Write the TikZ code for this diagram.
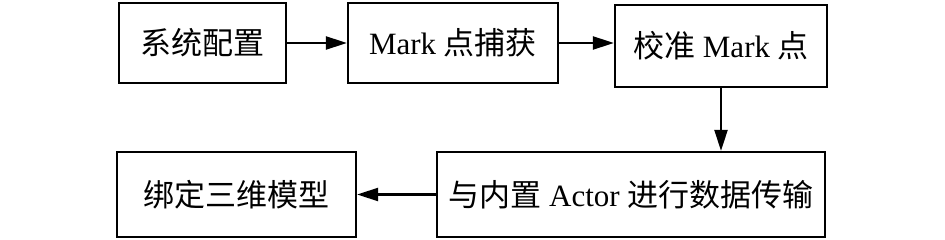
\documentclass[tikz,border=0pt]{standalone}
\usepackage{fontspec}
\setmainfont{Liberation Serif}
\newfontfamily\cjk{Noto Sans CJK SC}[Scale=1.0]
\usetikzlibrary{arrows.meta}
\begin{document}
\begin{tikzpicture}[x=1pt,y=-1pt,
  box/.style={draw,line width=2.2pt,inner sep=0pt,font=\fontsize{31}{36}\selectfont},
  arr/.style={line width=2.2pt,-{Triangle[length=21pt,width=13pt]}}]
\useasboundingbox (0,0) rectangle (945,240);
\node[box,minimum width=167pt,minimum height=80pt] (b1) at (202.5,43) {\cjk 系统配置};
\node[box,minimum width=210pt,minimum height=80pt] (b2) at (453,43) {Mark {\cjk 点捕获}};
\node[box,minimum width=212pt,minimum height=82pt] (b3) at (721,46) {{\cjk 校准} Mark {\cjk 点}};
\node[box,minimum width=388pt,minimum height=85pt] (b4) at (631,194.5) {{\cjk 与内置} Actor {\cjk 进行数据传输}};
\node[box,minimum width=239pt,minimum height=85pt] (b5) at (236.5,194.5) {\cjk 绑定三维模型};
\draw[arr] (b1.east) -- (b2.west);
\draw[arr] (b2.east) -- (b2.east -| b3.west);
\draw[arr] (b3.south) -- (b3.south |- b4.north);
\draw[arr] (b4.west) -- (b5.east);
\end{tikzpicture}
\end{document}
